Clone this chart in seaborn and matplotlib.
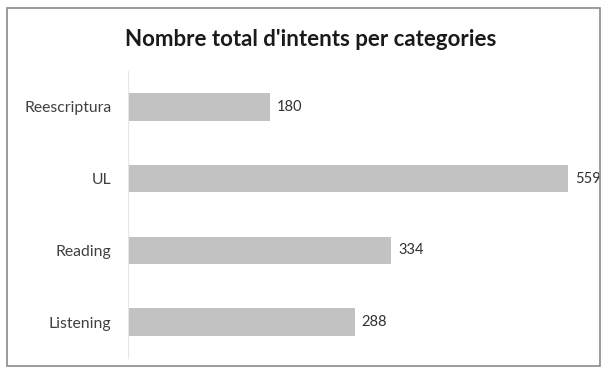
import matplotlib
matplotlib.use("Agg")
import matplotlib.pyplot as plt
import seaborn as sns
import pandas as pd
from matplotlib.patches import Rectangle

categories = ["Reescriptura", "UL", "Reading", "Listening"]
values = [180, 559, 334, 288]
title = "Nombre total d'intents per categories"

df = pd.DataFrame({"categoria": categories, "intents": values})

sns.set_theme(style="white")
plt.rcParams['font.family'] = ['Lato', 'DejaVu Sans']

W, H = 605, 367
fig = plt.figure(figsize=(W / 100, H / 100), dpi=100)
fig.patch.set_facecolor("white")

# axes placement in pixels
left_px, right_px = 128, 568
top_px, bot_px = 71, 358
ax = fig.add_axes([left_px / W, 1 - bot_px / H, (right_px - left_px) / W, (bot_px - top_px) / H])

sns.barplot(data=df, y="categoria", x="intents", orient="h", color="#c2c2c2",
            width=0.38, saturation=1, ax=ax, edgecolor="none")
ax.set_xlim(0, max(values))
ax.set_ylim(len(categories) - 0.5, -0.5)
ax.set_xlabel("")
ax.set_ylabel("")
ax.set_xticks([])
for s in ["top", "right", "bottom"]:
    ax.spines[s].set_visible(False)
ax.spines["left"].set_color("#e6e6e6")
ax.spines["left"].set_linewidth(0.8)
ax.tick_params(axis="y", length=0, pad=12, labelsize=11.3, labelcolor="#404040")
ax.set_facecolor("white")

for i, v in enumerate(values):
    ax.text(v + 9, i, str(v), va="center", ha="left", fontsize=10.5, color="#303030",
            clip_on=False, zorder=5)

fig.text(311 / W, 1 - 40 / H, title, ha="center", va="center", fontsize=16,
         fontweight="bold", color="#1a1a1a")

# chart frame
fig.patches.append(Rectangle((7 / W, 1 - 366 / H), 593 / W, 358 / H, transform=fig.transFigure,
                             fill=False, edgecolor="#8a8a8a", linewidth=1.2, zorder=0))

fig.savefig("out.png", dpi=100, facecolor="white")
